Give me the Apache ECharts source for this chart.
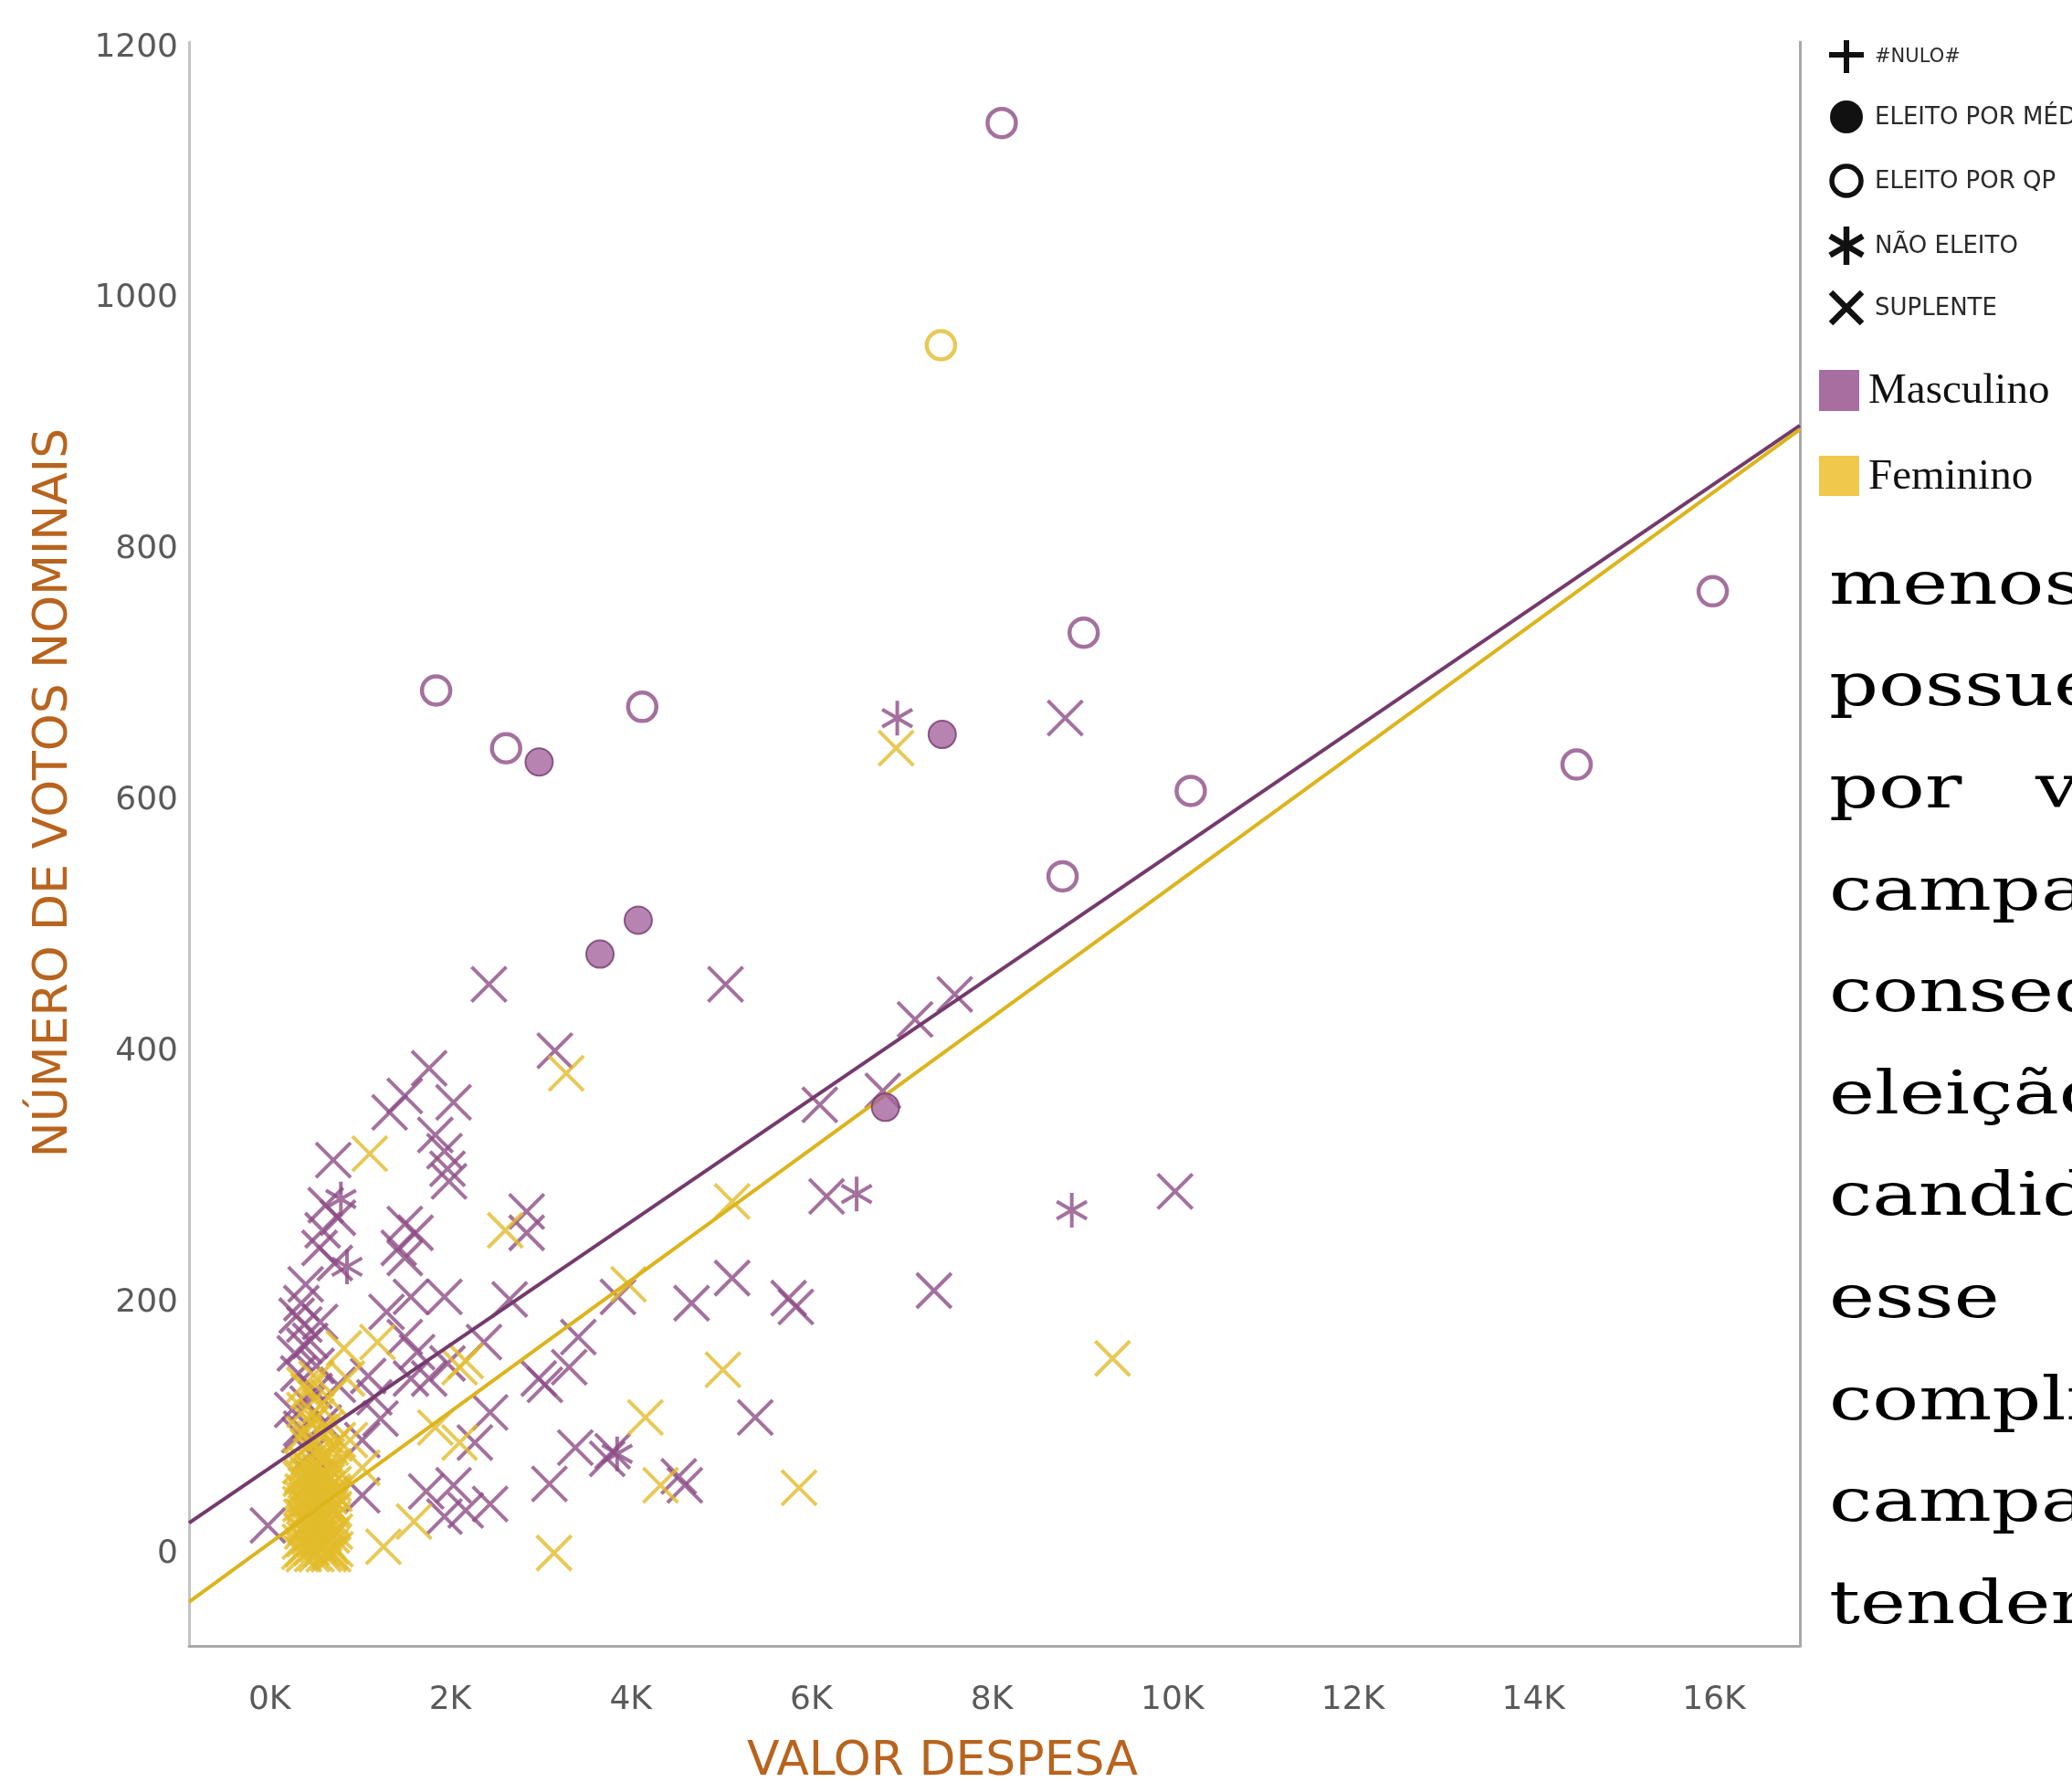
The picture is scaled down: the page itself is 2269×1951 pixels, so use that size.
<!DOCTYPE html>
<html><head><meta charset="utf-8">
<script src="https://cdn.jsdelivr.net/npm/echarts@6/dist/echarts.min.js"></script>
<style>html,body{margin:0;padding:0;background:#fff;overflow:hidden}#c{width:2269px;height:1951px}</style>
</head><body><div id="c"></div><script>
// ---------- DATA (VALOR DESPESA, NÚMERO DE VOTOS NOMINAIS) ----------
const xTickValues = [0, 2000, 4000, 6000, 8000, 10000, 12000, 14000, 16000];
const yTickValues = [0, 200, 400, 600, 800, 1000, 1200];
const xRange = [-892, 16951];
const yRange = [-73, 1204.5];

// ELEITO POR QP (open circles)
const mascQP = [[8110,1140],[15986,767],[9018,734],[1845,688],[4128,675],[2620,642],[14478,629],[10204,608],[8784,540]];
const femQP = [[7437,963]];
// ELEITO POR MÉDIA (filled circles)
const mascMedia = [[2986,631],[7451,653],[4084,505],[3660,478],[6822,356]];
// NÃO ELEITO (asterisks)
const mascNaoEleito = [[6953,666],[8886,274],[6503,287],[790,283],[858,229],[3850,80]];
// SUPLENTE (x)
const mascSuplente = [
  [8813,666],[2430,454],[5051,454],[3160,401],[7590,446],[7150,426],[6095,358],[6793,369],
  [10030,289],[6170,285],[7360,210],[5124,220],[4675,200],[5750,204],[5830,197],[5380,109],
  [4533,62],[4600,55],[3800,82],[3740,76],[3387,85],[3100,56],[3420,173],[3319,149],[3859,205],
  [1768,387],[1498,365],[1330,352],[2038,360],[1836,334],[1937,321],[1971,307],[1988,297],
  [706,314],[622,278],[757,268],[588,258],[723,232],[554,244],[1498,263],[1617,256],[1431,244],
  [1498,236],[2848,273],[2848,256],[352,200],[1566,205],[1937,205],[2660,203],
  [385,183],[385,166],[1498,173],[1634,161],[2375,169],[2982,140],[318,144],[757,135],[1093,142],
  [1229,108],[1027,91],[1566,140],[1768,140],[2443,113],[2274,89],[1735,50],[2038,55],[2173,35],
  [2443,40],[1937,30],[3050,135],[1027,47],[-19,23],[1296,193],[1971,152],[1161,125],
  [300,190],[450,170],[250,115],[500,130],[350,100],[600,105],[450,80],[420,120],[330,95],[480,60],
  [280,160],[520,150],[400,215],[560,185]
];
const femSuplente = [
  [6940,642],[9338,156],[5865,53],[5022,147],[5124,281],[3977,215],[3286,383],[2611,258],[1110,319],
  [4163,109],[4331,55],[3151,1],[1262,6],[1600,26],[2105,149],[2173,154],[2105,89],[1836,101],
  [824,164],[1195,169],[858,140],[385,135],[385,115],[554,98],[757,91],[588,79],[1027,69],[891,91],
  [330,2],[360,18],[390,40],[420,8],[450,55],[480,25],[510,70],[540,12],[570,44],[600,0],[630,30],
  [660,62],[690,15],[720,48],[345,60],[375,30],[405,72],[435,22],[465,5],[495,45],[525,32],[555,65],
  [585,20],[615,50],[645,10],[675,38],[705,0],[340,40],[400,55],[460,35],[520,0],[580,75],[640,42],
  [700,28],[370,4],[430,68],[490,12],[550,28],[610,66],[670,2],[710,70],[455,88],[600,95],[520,110],[680,85],
  [335,10],[350,30],[365,50],[380,0],[395,22],[410,44],[425,62],[440,14],[455,36],[470,0],[485,56],
  [500,20],[515,42],[530,8],[545,60],[560,26],[575,4],[590,48],[605,16],[620,38],[635,58],[650,24],
  [665,46],[680,6],[695,34],[710,56],[725,18],[340,70],[360,62],[385,12],[400,33],[415,25],[445,48],
  [475,65],[505,58],[535,38],[565,52],[595,30],[625,12],[655,0],[685,66],[715,36],[730,4],[350,45],
  [470,28],[590,62],[700,50],[420,86],[500,92],[560,82],[640,78],[380,96],[620,100],[720,88],[460,104],
  [560,118],[430,130],[520,140],[650,125]
];
// trend lines (endpoints read at the plot edges)
const trendMasc = [[-892,25],[16951,899]];
const trendFem = [[-892,-38],[16951,896]];

const legendShapes = ['#NULO#', 'ELEITO POR MÉD', 'ELEITO POR QP', 'NÃO ELEITO', 'SUPLENTE'];
const legendColors = ['Masculino', 'Feminino'];
const bodyLines = ['menos', 'possue', 'por   v', 'campa', 'conseq', 'eleição', 'candid', 'esse', 'compli', 'campa', 'tenden'];

// ---------- STYLE ----------
const PURPLE = '#8d4d86', PURPLE_FILL = '#a5649d', PURPLE_LINE = '#743a6d';
const YELLOW = '#e2bb2c', YELLOW_LINE = '#dcb41c';
const TITLE = '#b8641e';
const X_PATH = 'path://M0,0L10,10M10,0L0,10';
const AST_PATH = 'path://M5,0L5,10M0.67,2.5L9.33,7.5M0.67,7.5L9.33,2.5';

function xSeries(name, data, color) {
  return { type: 'scatter', name, data, symbol: X_PATH, symbolSize: 38, symbolKeepAspect: true,
    itemStyle: { color: 'rgba(0,0,0,0)', borderColor: color, borderWidth: 4 }, z: 2, silent: true };
}

const chart = echarts.init(document.getElementById('c'), null, { renderer: 'canvas' });

const graphic = [];
// axis titles
graphic.push({ type: 'text', x: 1032, y: 1929, style: { text: 'VALOR DESPESA', font: '52px "DejaVu Sans"', fill: TITLE, align: 'center', verticalAlign: 'middle' } });
graphic.push({ type: 'text', x: 59, y: 868, rotation: Math.PI / 2, style: { text: 'NÚMERO DE VOTOS NOMINAIS', font: '52px "DejaVu Sans"', fill: TITLE, align: 'center', verticalAlign: 'middle' } });
// shape legend
const lx = 2022, legY = [62, 128, 198, 269, 337];
graphic.push({ type: 'line', shape: { x1: lx - 19, y1: legY[0] - 2, x2: lx + 19, y2: legY[0] - 2 }, style: { stroke: '#111', lineWidth: 6 } });
graphic.push({ type: 'line', shape: { x1: lx, y1: legY[0] - 18, x2: lx, y2: legY[0] + 18 }, style: { stroke: '#111', lineWidth: 6 } });
graphic.push({ type: 'circle', shape: { cx: lx, cy: legY[1], r: 18 }, style: { fill: '#111' } });
graphic.push({ type: 'circle', shape: { cx: lx, cy: legY[2], r: 16 }, style: { fill: '#fff', stroke: '#111', lineWidth: 5.5 } });
[[0, -21, 0, 21], [-18, -10.5, 18, 10.5], [-18, 10.5, 18, -10.5]].forEach(s => graphic.push({ type: 'line', shape: { x1: lx + s[0], y1: legY[3] + s[1], x2: lx + s[2], y2: legY[3] + s[3] }, style: { stroke: '#111', lineWidth: 6.5 } }));
[[-17, -17, 17, 17], [-17, 17, 17, -17]].forEach(s => graphic.push({ type: 'line', shape: { x1: lx + s[0], y1: legY[4] + s[1], x2: lx + s[2], y2: legY[4] + s[3] }, style: { stroke: '#111', lineWidth: 6.5 } }));
legendShapes.forEach((t, i) => graphic.push({ type: 'text', x: 2053, y: legY[i] + 1, style: { text: t, font: (i === 0 ? '21px' : '26px') + ' "DejaVu Sans"', fill: '#2a2a2a', align: 'left', verticalAlign: 'middle' } }));
// colour legend
graphic.push({ type: 'rect', shape: { x: 1992, y: 405, width: 44, height: 45 }, style: { fill: '#a86ea0' } });
graphic.push({ type: 'rect', shape: { x: 1992, y: 499, width: 44, height: 44 }, style: { fill: '#efc84c' } });
legendColors.forEach((t, i) => graphic.push({ type: 'text', x: 2046, y: [429, 523][i], style: { text: t, font: '47px "Liberation Serif"', fill: '#111', align: 'left', verticalAlign: 'middle' } }));
// surrounding document text
bodyLines.forEach((t, i) => graphic.push({ type: 'text', x: 2003, y: 665 + 111.6 * i - 21, scaleX: 1.3, style: { text: t, font: '65px "DejaVu Serif"', fill: '#000', align: 'left', verticalAlign: 'middle' } }));

const option = {
  animation: false,
  backgroundColor: '#fff',
  grid: { left: 207, right: 298, top: 46, bottom: 149, containLabel: false },
  xAxis: {
    type: 'value', min: xRange[0], max: xRange[1],
    axisLine: { show: true, onZero: false, lineStyle: { color: '#a9a9a9', width: 3 } },
    axisTick: { show: false },
    splitLine: { show: false },
    axisLabel: { customValues: xTickValues, formatter: v => (v / 1000) + 'K', color: '#5a5a5a', fontSize: 36, fontFamily: 'DejaVu Sans', margin: 42 }
  },
  yAxis: [{
    type: 'value', min: yRange[0], max: yRange[1],
    axisLine: { show: true, onZero: false, lineStyle: { color: '#c4c4c4', width: 3 } },
    axisTick: { show: false },
    splitLine: { show: false },
    axisLabel: { customValues: yTickValues, formatter: v => String(v), color: '#5a5a5a', fontSize: 36, fontFamily: 'DejaVu Sans', margin: 12, padding: [8, 0, 0, 0] }
  }, {
    type: 'value', position: 'right', min: yRange[0], max: yRange[1],
    axisLine: { show: true, onZero: false, lineStyle: { color: '#a9a9a9', width: 3 } },
    axisTick: { show: false }, axisLabel: { show: false }, splitLine: { show: false }
  }],
  graphic: graphic,
  series: [
    xSeries('SUPLENTE Masculino', mascSuplente, PURPLE),
    xSeries('SUPLENTE Feminino', femSuplente, YELLOW),
    { type: 'scatter', name: 'NÃO ELEITO Masculino', data: mascNaoEleito, symbol: AST_PATH, symbolSize: 38, symbolKeepAspect: true,
      itemStyle: { color: 'rgba(0,0,0,0)', borderColor: PURPLE, borderWidth: 4 }, z: 3, silent: true },
    { type: 'line', name: 'Tendência Masculino', data: trendMasc, showSymbol: false, symbol: 'none', lineStyle: { color: PURPLE_LINE, width: 4 }, z: 4, silent: true },
    { type: 'line', name: 'Tendência Feminino', data: trendFem, showSymbol: false, symbol: 'none', lineStyle: { color: YELLOW_LINE, width: 4 }, z: 4, silent: true },
    { type: 'scatter', name: 'ELEITO POR MÉDIA Masculino', data: mascMedia, symbol: 'circle', symbolSize: 30,
      itemStyle: { color: PURPLE_FILL, borderColor: PURPLE_LINE, borderWidth: 2 }, z: 5, silent: true },
    { type: 'scatter', name: 'ELEITO POR QP Masculino', data: mascQP, symbol: 'circle', symbolSize: 31,
      itemStyle: { color: '#fff', borderColor: PURPLE, borderWidth: 4.5 }, z: 5, silent: true },
    { type: 'scatter', name: 'ELEITO POR QP Feminino', data: femQP, symbol: 'circle', symbolSize: 31,
      itemStyle: { color: '#fff', borderColor: YELLOW, borderWidth: 4.5 }, z: 5, silent: true }
  ]
};
chart.setOption(option);
</script></body></html>
